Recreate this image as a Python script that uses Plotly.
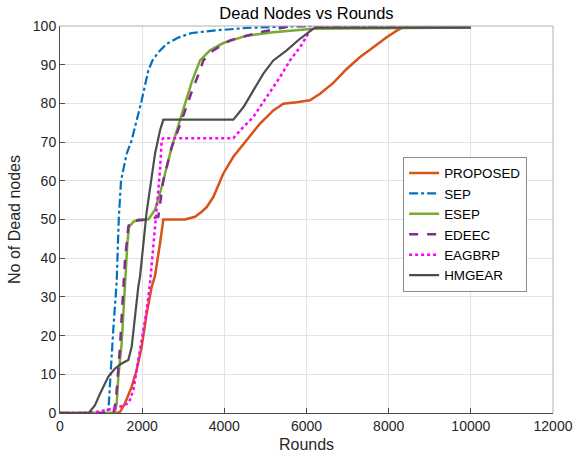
import plotly.graph_objects as go

# ---- data ----
proposed_x = [0, 1400, 1460, 1582, 1745, 1866, 1988, 2110, 2232, 2313, 2434, 2515, 3043, 3286, 3449, 3570,
              3732, 3976, 4219, 4545, 4869, 5193, 5436, 5761, 6085, 6329, 6653, 6978, 7303, 7627, 7952,
              8196, 8358, 8500, 10000]
proposed_y = [0, 0, 0.3, 2.5, 6.8, 11.1, 17.1, 25.7, 32.6, 35.5, 43.8, 50, 50, 50.7, 52, 53.2,
              55.8, 61.9, 66.2, 70.5, 74.8, 78.2, 79.9, 80.3, 80.8, 82.5, 85.3, 88.9, 92, 94.5, 97.1,
              98.8, 99.7, 100, 100]

sep_x = [0, 1100, 1180, 1230, 1300, 1380, 1430, 1485, 1560, 1623, 1745, 1866, 1988, 2150, 2247, 2393,
         2597, 2880, 3205, 3732, 4545, 5600, 6100, 10000]
sep_y = [0, 0, 1, 11, 22, 34, 50, 60, 64, 67, 70.5, 75.6, 80.8, 88.5, 91, 93.2,
         95.4, 97, 98.2, 98.8, 99.5, 99.9, 100, 100]

esep_x = [0, 1330, 1380, 1420, 1501, 1541, 1582, 1639, 1680, 1785, 1906, 2150, 2313, 2475, 2719, 2962,
          3206, 3408, 3651, 3976, 4545, 5193, 6167, 10000]
esep_y = [0, 0, 2.5, 9.4, 18, 26.6, 35.2, 43.8, 48.1, 49.4, 50, 50, 52.5, 58.4, 68.7, 77,
          85.5, 91.1, 93.7, 95.6, 97.5, 98.4, 99.3, 99.6]

edeec_x = [0, 1300, 1360, 1420, 1460, 1541, 1582, 1663, 1704, 2150, 2393, 2515, 2719, 2962, 3206, 3408,
           3489, 3732, 4138, 4545, 4950, 5598, 6000, 10000]
edeec_y = [0, 0, 3, 12, 17, 32, 39.5, 48.1, 49.5, 50, 50.7, 60.1, 68.7, 75.6, 83, 88.5,
           91.1, 93.7, 96.3, 97.5, 98.6, 99.9, 100, 100]

eagbrp_x = [0, 700, 1000, 1380, 1663, 1704, 1785, 1826, 1906, 1947, 2028, 2110, 2191, 2313, 2353, 2434,
            2475, 2515, 4219, 4382, 4706, 5031, 5355, 5598, 5842, 6085, 6248, 10000]
eagbrp_y = [0, 0, 0.5, 1.3, 2.5, 3.4, 5.9, 8.5, 13.7, 17, 21.4, 26.6, 33.5, 49, 52, 62.7,
            70.5, 71, 71, 73, 76.5, 81.6, 86.8, 91.1, 94.5, 98.8, 100, 100]

hmgear_x = [0, 700, 852, 974, 1177, 1339, 1501, 1663, 1745, 1826, 1906, 1947, 2069, 2110, 2313, 2434,
            2515, 4219, 4463, 4706, 4950, 5193, 5518, 5842, 6167, 6248, 10000]
hmgear_y = [0, 0, 2, 5, 9.4, 11.5, 12.8, 13.7, 17.1, 25.7, 32.6, 35.2, 49, 52, 67, 73,
            75.8, 75.8, 79, 83.4, 87.7, 91.1, 93.7, 96.7, 99.3, 99.6, 99.6]

x_ticks = [0, 2000, 4000, 6000, 8000, 10000, 12000]
y_ticks = [0, 10, 20, 30, 40, 50, 60, 70, 80, 90, 100]

series = [
    ("PROPOSED", proposed_x, proposed_y, "#D95319", "solid", 2.5),
    ("SEP", sep_x, sep_y, "#0072BD", "dashdot", 2.2),
    ("ESEP", esep_x, esep_y, "#77AC30", "solid", 2.5),
    ("EDEEC", edeec_x, edeec_y, "#7E2F8E", "dash", 2.5),
    ("EAGBRP", eagbrp_x, eagbrp_y, "#FF00FF", "dot", 2.5),
    ("HMGEAR", hmgear_x, hmgear_y, "#4D4D4D", "solid", 2.2),
]

fig = go.Figure()
for name, xs, ys, color, dash, w in series:
    fig.add_trace(go.Scatter(x=xs, y=ys, mode="lines", name=name,
                             line=dict(color=color, dash=dash, width=w)))

font_family = "Liberation Sans, Arial, sans-serif"
txt = "#262626"

fig.update_layout(
    width=573, height=463,
    margin=dict(l=60, r=20, t=25.5, b=50),
    paper_bgcolor="white", plot_bgcolor="white",
    font=dict(family=font_family, color=txt, size=14),
    title=dict(text="Dead Nodes vs Rounds", x=(60 + 553) / 2 / 573, xanchor="center",
               y=1 - 13 / 463, yanchor="middle", yref="container",
               font=dict(size=16.5, color="#000000")),
    showlegend=True,
    legend=dict(x=0.696, y=0.662, xanchor="left", yanchor="top",
                bgcolor="white", bordercolor="#8c8c8c", borderwidth=1,
                font=dict(size=13.4, color="#000000"), tracegroupgap=0),
)

fig.update_xaxes(range=[0, 12000], tickvals=x_ticks, ticktext=[str(v) for v in x_ticks],
                 automargin=False,
                 showgrid=True, gridcolor="#e3e3e3", gridwidth=1, zeroline=False,
                 showline=True, linecolor="#4d4d4d", linewidth=1, mirror=False,
                 ticks="inside", ticklen=5, tickcolor="#4d4d4d",
                 tickfont=dict(size=14, color=txt),
                 title=dict(text="Rounds", font=dict(size=16, color=txt), standoff=6))
fig.update_yaxes(range=[0, 100], tickvals=y_ticks, ticktext=[str(v) for v in y_ticks],
                 automargin=False,
                 showgrid=True, gridcolor="#e3e3e3", gridwidth=1, zeroline=False,
                 showline=True, linecolor="#4d4d4d", linewidth=1, mirror=False,
                 ticks="inside", ticklen=5, tickcolor="#4d4d4d",
                 tickfont=dict(size=14, color=txt),
                 title=dict(text="No of Dead nodes", font=dict(size=16, color=txt), standoff=8))

# light box on top and right (as in the reference)
fig.add_shape(type="line", xref="paper", yref="paper", x0=0, x1=1, y0=1, y1=1,
              line=dict(color="#b0b0b0", width=1))
fig.add_shape(type="line", xref="paper", yref="paper", x0=1, x1=1, y0=0, y1=1,
              line=dict(color="#b0b0b0", width=1))

fig.write_html("out.html")
